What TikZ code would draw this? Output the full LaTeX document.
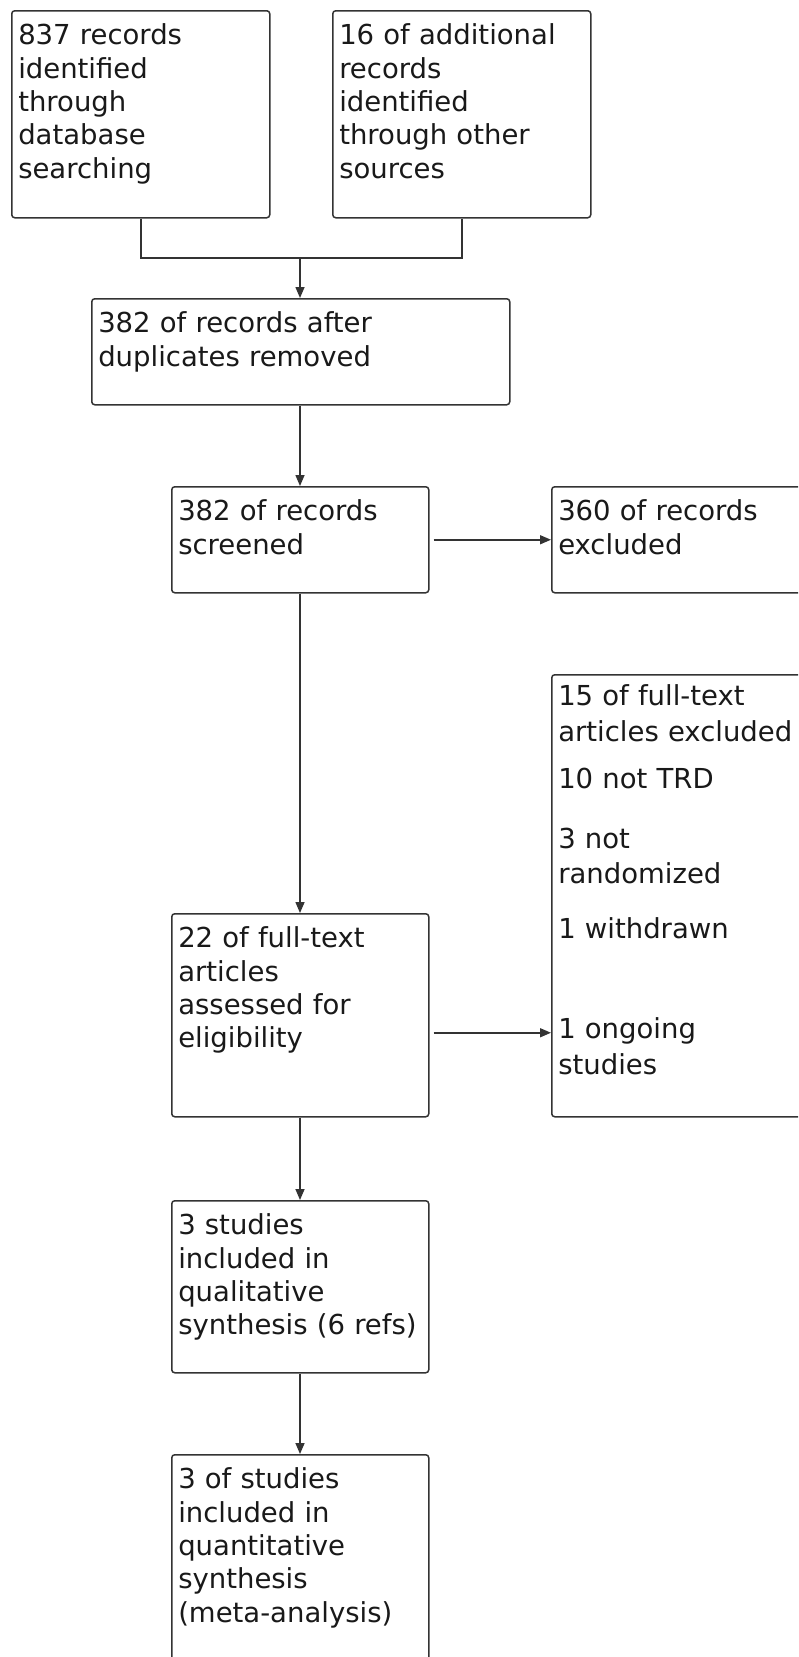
\documentclass[tikz,border=0pt]{standalone}
\usepackage{fontspec}
\setmainfont{DejaVu Sans}
\usepackage{tikz}
\usetikzlibrary{arrows.meta}

\begin{document}
\begin{tikzpicture}[x=1pt,y=-1pt,
  box/.style={draw=black!80,line width=1.5pt,rounded corners=3pt,anchor=north west,
    align=left,inner xsep=6.5pt,inner ysep=0pt,text height=34pt,text=black!90,
    font=\fontsize{27.5}{33.4}\selectfont},
  arr/.style={draw=black!80,line width=1.5pt,-{Triangle[length=11pt,width=9pt]}},
  lnk/.style={draw=black!80,line width=1.5pt}]

\useasboundingbox (0,0) rectangle (798,1657);
\clip (0,0) rectangle (798,1657);

\node[box,text width=245pt,text depth=173pt] (A) at (11,10) {837 records\\identified\\through\\database\\searching};
\node[box,text width=245pt,text depth=173pt] (B) at (332,10) {16 of additional\\records\\identified\\through other\\sources};
\node[box,text width=405pt,text depth=72pt] (C) at (91,298) {382 of records after\\duplicates removed};
\node[box,text width=244pt,text depth=72pt] (D) at (171,486) {382 of records\\screened};
\node[box,text width=267pt,text depth=72pt] (E) at (551,486) {360 of records\\excluded};
\node[box,text width=267pt,text height=31pt,text depth=411pt] (F) at (551,674) {15 of full-text\\[2.6pt]articles excluded\\[13.6pt]10 not TRD\\[26.6pt]3 not\\[1.6pt]randomized\\[21.6pt]1 withdrawn\\[66.6pt]1 ongoing\\[2.6pt]studies};
\node[box,text width=244pt,text depth=169pt] (G) at (171,913) {22 of full-text\\articles\\assessed for\\eligibility};
\node[box,text width=244pt,text depth=138pt] (H) at (171,1200) {3 studies\\included in\\qualitative\\synthesis (6 refs)};
\node[box,text width=244pt,text depth=216pt] (I) at (171,1454) {3 of studies\\included in\\quantitative\\synthesis\\(meta-analysis)};

\coordinate (jn) at (300,258);
\draw[lnk] (A.south) |- (jn) -| (B.south);
\draw[arr] (jn) -- (jn |- C.north);
\draw[arr] (jn |- C.south) -- (jn |- D.north);
\draw[arr,shorten <=4pt] (D.east) -- (D.east -| E.west);
\draw[arr] (jn |- D.south) -- (jn |- G.north);
\draw[arr,shorten <=4pt] ([yshift=-17.5pt]G.east) -- ([yshift=-17.5pt]G.east -| F.west);
\draw[arr] (jn |- G.south) -- (jn |- H.north);
\draw[arr] (jn |- H.south) -- (jn |- I.north);

\end{tikzpicture}
\end{document}
